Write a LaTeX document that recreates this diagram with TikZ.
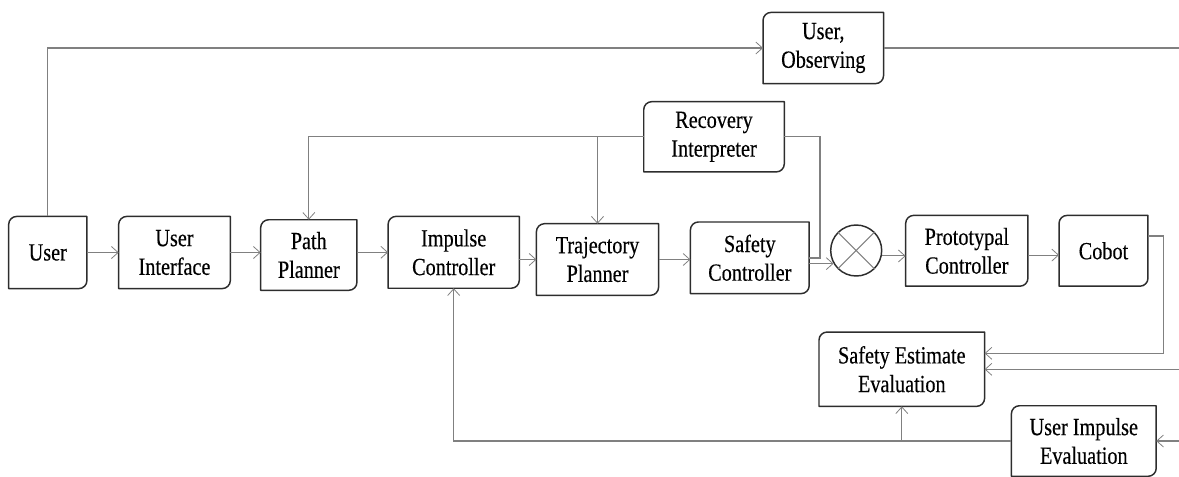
\documentclass[tikz,border=0pt]{standalone}
\usepackage{fontspec}
\setmainfont{Liberation Serif}[FakeStretch=0.82,FakeBold=0.35]
\usetikzlibrary{arrows.meta,calc}
\definecolor{connc}{RGB}{128,128,128}
\definecolor{bordc}{RGB}{45,45,45}
\tikzset{
  blk/.style={inner sep=0pt, align=center, font=\fontsize{18.5pt}{21.5pt}\selectfont},
  wire/.style={draw=connc, line width=0.8pt},
  arr/.style={wire, -{Straight Barb[length=5pt,width=9pt,line width=0.6pt]}},
  boxline/.style={draw=bordc, line width=1.1pt, line join=round},
}
\newcommand{\outl}[1]{%
  \draw[boxline] ([xshift=6pt]#1.north west) -- (#1.north east) -- ([yshift=6pt]#1.south east)
    .. controls ([yshift=2.7pt]#1.south east) and ([xshift=-2.7pt]#1.south east) .. ([xshift=-6pt]#1.south east)
    -- (#1.south west) -- ([yshift=-6pt]#1.north west)
    .. controls ([yshift=-2.7pt]#1.north west) and ([xshift=2.7pt]#1.north west) .. ([xshift=6pt]#1.north west) -- cycle;}
\begin{document}
\begin{tikzpicture}[x=0.75pt,y=-0.75pt]
\useasboundingbox (0,0) rectangle (1179,476);
\coordinate (edge) at (1179,0);
% nodes
\node[blk, minimum width=58.3pt, minimum height=53.7pt] (user) at (47.8,252.5) {User};
\node[blk, minimum width=83.3pt, minimum height=53.7pt] (ui) at (174.5,252.5) {User\\Interface};
\node[blk, minimum width=71.8pt, minimum height=52.5pt] (pp) at (308.8,255) {Path\\Planner};
\node[blk, minimum width=98pt, minimum height=53.5pt] (ic) at (453.7,252.3) {Impulse\\Controller};
\node[blk, minimum width=91.2pt, minimum height=53.3pt] (tp) at (597.5,259.5) {Trajectory\\Planner};
\node[blk, minimum width=88.7pt, minimum height=53.3pt] (sc) at (749.8,257.8) {Safety\\Controller};
\node[circle, draw=bordc, line width=1.1pt, inner sep=0pt, minimum size=38.25pt] (circ) at (856.2,250.5) {};
\node[blk, minimum width=91.3pt, minimum height=52.7pt] (proto) at (966.8,250.8) {Prototypal\\Controller};
\node[blk, minimum width=66.3pt, minimum height=52.7pt] (cobot) at (1103.5,250.8) {Cobot};
\node[blk, minimum width=90pt, minimum height=53pt] (uo) at (823.3,48) {User,\\Observing};
\node[blk, minimum width=105pt, minimum height=52.3pt] (ri) at (714,136.8) {Recovery\\Interpreter};
\node[blk, minimum width=123.8pt, minimum height=55.3pt] (see) at (901.8,369.2) {Safety Estimate\\Evaluation};
\node[blk, minimum width=108.2pt, minimum height=52.5pt] (uie) at (1083.8,441) {User Impulse\\Evaluation};
% outlines
\foreach \n in {user,ui,pp,ic,tp,sc,proto,cobot,uo,ri,see,uie} {\outl{\n}}
\draw[wire] (circ.45) -- (circ.225) (circ.135) -- (circ.315);
% main chain
\draw[arr] (user.east) -- (user.east -| ui.west);
\draw[arr] (ui.east) -- (ui.east -| pp.west);
\draw[arr] (pp.east |- ic.west) -- (ic.west);
\draw[arr] (tp.west -| ic.east) -- (tp.west);
\draw[arr] (tp.east) -- (tp.east -| sc.west);
\draw[arr] (circ.210 -| sc.east) -- (circ.210);
\draw[arr] (circ.-12) -- (circ.-12 -| proto.west);
\draw[arr] ([yshift=-3.2pt]proto.east) -- ([yshift=-3.2pt]proto.east -| cobot.west);
% top loop
\draw[arr] (user.north) -- (user.north |- uo.west) -- (uo.west);
\draw[wire] (uo.east) -- (uo.east -| edge);
% recovery
\draw[arr] (ri.west) -- (ri.west -| pp.north) -- (pp.north);
\draw[arr] (ri.west -| tp.north) -- (tp.north);
\coordinate (rj) at (820,258);
\draw[wire] (ri.east) -- (ri.east -| rj) -- (rj) -- (rj -| sc.east);
% feedback
\coordinate (cj) at (1163.3,353.3);
\draw[arr] ([yshift=11.1pt]cobot.east) -- ([yshift=11.1pt]cobot.east -| cj) -- (cj) -- (cj -| see.east);
\coordinate (e2) at (1179,369.3);
\draw[arr] (e2) -- (e2 -| see.east);
\draw[arr] (edge |- uie.east) -- (uie.east);
\draw[arr] (uie.west) -- (uie.west -| ic.south) -- (ic.south);
\draw[arr] (uie.west -| see.south) -- (see.south);
\end{tikzpicture}
\end{document}
